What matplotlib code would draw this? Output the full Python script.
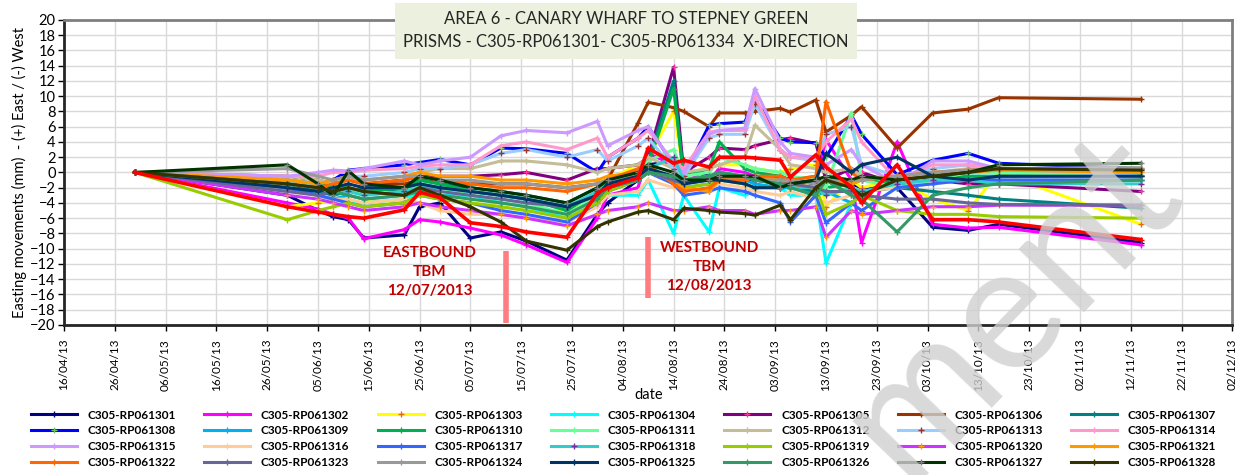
import datetime as dt
import matplotlib
matplotlib.use("Agg")
import matplotlib.pyplot as plt
import matplotlib.dates as mdates

plt.rcParams['font.family'] = ['Lato', 'DejaVu Sans']

# survey dates (dd/mm/yy)
dates = ["30/04/13", "30/05/13", "05/06/13", "08/06/13", "11/06/13", "14/06/13",
         "22/06/13", "25/06/13", "29/06/13", "05/07/13", "11/07/13", "16/07/13",
         "24/07/13", "30/07/13", "01/08/13", "07/08/13", "09/08/13", "14/08/13",
         "16/08/13", "21/08/13", "23/08/13", "28/08/13", "30/08/13", "04/09/13",
         "06/09/13", "11/09/13", "13/09/13", "18/09/13", "20/09/13", "27/09/13",
         "04/10/13", "11/10/13", "17/10/13", "14/11/13"]

names = ["C305-RP0613%02d" % i for i in range(1, 29)]
colors = ["#000080", "#FF00FF", "#FFFF00", "#00FFFF", "#800080", "#993300", "#008080",
          "#0000FF", "#00B0F0", "#00B050", "#66FF99", "#C4BD97", "#99CCFF", "#FF99CC",
          "#CC99FF", "#FFCC99", "#3366FF", "#33CCCC", "#99CC00", "#CC33FF", "#FF9900",
          "#FF6600", "#666699", "#999999", "#003366", "#339966", "#003300", "#333300"]
marker_colors = {"C305-RP061303": "#E46C0A", "C305-RP061305": "#FF3399",
                 "C305-RP061308": "#66CC66", "C305-RP061313": "#993333",
                 "C305-RP061318": "#7030A0", "C305-RP061320": "#FF9900",
                 "C305-RP061327": "#808080"}

rp01 = [0, -3, -5, -5.8, -6.2, -8.6, -8.2, -4.5, -4, -8.6, -7.8, -9, -11.5, -5.5, -4, -1, 1,
        1.5, 0.5, -0.5, -1, -1, -1, -0.5, -1, -1.5, -1, -1.5, -2, -2, -7.2, -7.6, -6.8, -9.2]
rp02 = [0, -4, -4.8, -5.5, -6, -8.7, -7.5, -6.2, -6.5, -7.3, -8.2, -9.5, -11.8, -6, -3, -2, 2.5,
        1, 0, -1, 0.5, 0, -0.5, -1, -1, -1, 4.3, -1, -9.2, 4, -6.8, -7.3, -7.2, -9.5]
rp03 = [0, -4.5, -4, -3.5, -3, -3.5, -4, -2, -3.5, -4, -4.5, -5, -5, -3, -1, 1, 2,
        8, 0, 0.5, 1, 1, 0.5, 0, 0.5, 1, -4.5, -1, -2, -1, -3.5, -5, 0, -6.8]
rp04 = [0, -2, -3, -3.5, -4, -4, -3.5, -2.5, -3, -3, -4, -4.5, -6, -4, -3, -3, -1,
        -8, -3, -7.8, -2, -3, -2, -2, -3, -3, -11.9, -4, -3, -1, -0.5, -0.5, -0.5, -0.5]
rp05 = [0, -2.5, -2, -1, 0, -1.5, -1, -0.5, -0.5, -0.5, -0.3, 0, -1, 0.5, 0.5, 1, 2,
        13.8, 0, 2, 3.2, 3, 3.5, 4.3, 4.5, 3.8, -1, 0.5, 0, -1.5, -1, -1.5, -1.5, -2.5]
rp06 = [0, -0.5, -1, -1.5, -1, -1.5, -1.5, -1, -1, -1.5, -1.5, -1.5, -2, -1.5, -1, 6.5, 9.2,
        8.5, 8, 6, 7.8, 7.8, 8, 8.4, 7.9, 9.5, 5.3, 7.5, 8.6, 3.2, 7.8, 8.3, 9.8, 9.6]
rp07 = [0, -1.5, -2.5, -3, -2.5, -2, -2.5, -1, -1.5, -2, -2.5, -3, -4, -2, -1, 0, 1.5,
        12, -1, -0.5, 0, -0.5, -1, -1.5, -2, -2.5, -1, -3, -2.5, -2, -2.5, -3, -3.5, -4.7]
rp08 = [0, -1, -1.5, -1, 0.3, 0.5, 1, 1.3, 1.7, 1, 3.2, 3.1, 2.5, 0, 2, 4.5, 6,
        1, -0.5, 6.2, 6.4, 6.6, 9.5, 4.5, 4, 3.9, 2, 7.5, 5, -0.3, 1.6, 2.5, 1.2, 0.5]
rp09 = [0, -2, -3, -3.5, -3, -3.5, -3, -1.5, -2, -2.5, -3, -3.5, -4.5, -3, -1.5, -1, 0.5,
        -1, -2, -1.5, -1, -1, -1.5, -2, -2, -3, -2.5, -4, -3, -1, -0.5, -1, -1, -1]
rp10 = [0, -1, -1.5, -2, -2, -2.5, -2, -1, -1.5, -2.5, -3, -3.5, -5, -2.5, -1, 0, 1,
        11, -0.5, 0.5, 4, 0.5, 0, -0.5, -1, -0.5, -2, -1.5, -1, -1.5, -1, -0.5, -0.5, -0.3]
rp11 = [0, -1.5, -2, -2.5, -2, -3, -2.5, -1.5, -2, -3, -3.5, -4, -5.5, -3, -1.5, -0.5, 1.5,
        3, -0.5, 0, 2, 1, 0.5, 0, -0.5, -1, -2, 7.8, -1, -2, -1, 0, 0, -0.5]
rp12 = [0, -0.5, -1, -1.5, -1, -1, -0.5, 0, 0.5, 0.5, 1.5, 1.5, 1, 0, 0.5, 1, 2,
        0.5, 0, 0.5, 1, 2, 6.2, 3, 1, 0.5, 0, 0.5, -0.5, -1, 0, 0.5, 0.5, 0.6]
rp13 = [0, -1, -1.5, -1, -0.5, -0.5, 0, 0.5, 0.5, 1, 2.5, 3, 2, 3, 1.5, 3.5, 4.5,
        0.5, -0.5, 4.5, 5, 5, 9, 3, 2, 1.5, 5, 6, 1, -0.5, 0.5, 1, 0.5, -0.5]
rp14 = [0, -0.5, -0.5, 0, 0, 0.3, 0.5, 0.8, 1, 1, 3.5, 4, 3, 4.5, 2, 4.5, 5.5,
        1.5, 0.5, 5.3, 5.5, 5.5, 10, 3, 2, 2, 4, 7, 4, -1, 1, 1, 0.5, 0]
rp15 = [0, -0.5, 0, 0.3, 0.2, 0.5, 1.5, 1, 1.5, 2, 4.8, 5.5, 5.2, 6.7, 3.5, 5.5, 6,
        1, 0, 5, 5.5, 5.8, 11, 4, 2.5, 2, 1, 3, 1, -1.5, 1.5, 1.5, 0.5, 0.5]
rp16 = [0, -2.5, -3, -3.5, -3.5, -4, -3.5, -4, -5, -5.5, -5.5, -6, -6.5, -4.5, -3, -2.5, -1,
        -2, -2.5, -2, -1.5, -2, -2.5, -3, -2.5, -3.5, -4, -3, -2.5, -2, -1.5, -1, -1, -1]
rp17 = [0, -2, -3, -3.5, -4, -4.5, -4, -3, -3.5, -4, -5, -5.5, -6.5, -4, -2.5, -1, 0,
        -1.5, -3, -2.5, -2, -2.5, -3, -4, -6.5, -3, -6.6, -4, -5, -2, -1.5, -1, -1, -1]
rp18 = [0, -1.5, -2, -2.5, -2.5, -3, -2.5, -2, -2, -2.5, -3, -3.5, -4.5, -2.5, -1.5, -0.5, 0.5,
        2, -1, -0.5, 0, -0.5, -1, -1.5, -2, -2, -3, -2, -2.5, -1.5, -1, -1, -1.5, -1.5]
rp19 = [0, -6.2, -5, -4.5, -4, -4.5, -4, -3, -3.5, -4, -4.5, -5, -6, -4, -2.5, -1, 0,
        -1, -2, -1.5, -1, -1.5, -2, -2, -1.5, -2, -5.5, -4, -3, -5, -5.5, -5.5, -5.8, -6]
rp20 = [0, -3, -3.5, -4, -4.5, -5, -4.5, -4, -4.5, -5, -5.5, -6, -7, -5.5, -5, -4.5, -4,
        -5, -5, -4.5, -5, -5, -5.5, -5, -5, -4.5, -8.5, -5, -5.5, -5, -4.5, -4.5, -4.3, -4.3]
rp21 = [0, -1, -1.5, -1, -0.5, -1, -0.5, 0, -0.5, -0.5, -1, -1, -1.5, -1, -0.5, 0, 0.5,
        -1.3, -2, -2.5, -1, -1, -0.5, -1, -1.5, -2, -1, -1.5, -1, -0.5, 0, 0, 0.3, 0]
rp22 = [0, -1.5, -2, -1.5, -1, -1.5, -1, -0.5, -1, -1.5, -2, -2, -2.5, -1.5, -1, 0.5, 1,
        -1.5, -2.5, -2, -1, -1, -0.5, -0.5, -1, -0.5, 9.3, 0, -1, -0.5, 0, 0.3, 0.5, 0.5]
rp23 = [0, -2.5, -3, -2.5, -2, -2.5, -3, -2, -2.5, -3, -3.5, -4, -4.5, -3, -2, -1, 0,
        -1, -1.5, -1, -0.5, -0.5, -1, -1.5, -1.5, -2, -2.5, -2.5, -3, -3.5, -3.5, -4, -4.2, -4.3]
rp24 = [0, 0.5, -0.5, -1, -0.5, -1, -0.5, -0.5, -1, -1, -1.5, -1.5, -2, -1.5, -1, -0.5, 0,
        -0.5, -1, -0.5, -0.5, -0.5, -1, -1, -1, -1.5, -1, -1, -1, -0.5, 0, 0.3, 0.5, 0.6]
rp25 = [0, -2, -2.5, -2, -1.5, -2, -2, -1.5, -2, -2.5, -3, -3.5, -4.5, -3, -1.5, -0.5, 0.5,
        -0.5, -1.5, -1, -1, -1.5, -2, -2, -1.5, -1, 2.5, 0, 1, 2, -0.5, -1, -0.5, -0.5]
rp26 = [0, -1.5, -2, -2.5, -3, -3.5, -3, -2.5, -3, -3.5, -4, -4.5, -5.5, -3.5, -2, -1, 0,
        -0.5, -1, -0.5, 0, -0.5, -1, -1.5, -2, -3, -1, -3, -3.5, -7.8, -3, -2, -1.5, -1]
rp27 = [0, 1, -1.5, -3, 0.2, -1.5, -2, -0.5, -1, -2, -2.5, -3, -4, -2, -1, 0, 1,
        0, -1, -1, -0.5, -0.5, -0.5, -2, -1.5, -1, -0.5, -1, -0.5, -1, -0.5, 0, 1, 1.2]
rp28 = [0, -1.5, -2, -2.5, -2, -2.5, -3, -2, -3, -4.5, -6.5, -9, -10.2, -7.1, -6.5, -5.2, -5,
        -6.2, -4.7, -5, -5.2, -5.4, -5.6, -4.3, -6.2, -2, -1, -2, -3, -1, -0.5, 0, 0.5, 0.3]
# thick red prism line (not shown in legend)
rp29 = [0, -4.5, -5.2, -5.5, -5.8, -6, -4.9, -2.6, -3.3, -6.6, -7.1, -7.8, -8.5, -2.7, -2, -0.7, 3.2,
        1.2, 1.6, 0.7, 2, 2, 1.9, 1.6, -0.6, 2.3, 0.7, -1.9, -4, 1, -6.2, -6.2, -6.5, -8.8]

series = [rp01, rp02, rp03, rp04, rp05, rp06, rp07, rp08, rp09, rp10, rp11, rp12, rp13, rp14,
          rp15, rp16, rp17, rp18, rp19, rp20, rp21, rp22, rp23, rp24, rp25, rp26, rp27, rp28]

x = [dt.datetime.strptime(d, "%d/%m/%y") for d in dates]

fig = plt.figure(figsize=(12.47, 4.75), dpi=100)
ax = fig.add_axes([0.0513, 0.316, 0.9370, 0.642])

handles = []
for name, col, vals in zip(names, colors, series):
    mc = marker_colors.get(name, col)
    h, = ax.plot(x, vals, color=col, lw=2.2, marker='+', ms=5, mec=mc, mew=1, label=name)
    handles.append(h)
ax.plot(x, rp29, color="#FF0000", lw=2.6, marker='+', ms=5, mec="#FF0000")

# TBM passing markers
ax.plot([dt.datetime(2013, 7, 12)] * 2, [-10.3, -19.7], color="#FF7C80", lw=4, solid_capstyle='butt')
ax.plot([dt.datetime(2013, 8, 9)] * 2, [-8.5, -16.5], color="#FF7C80", lw=4, solid_capstyle='butt')
ax.text(dt.datetime(2013, 6, 27), -9.6, "EASTBOUND\nTBM\n12/07/2013", color="#C00000",
        fontsize=11, fontweight='bold', ha='center', va='top', linespacing=1.45)
ax.text(dt.datetime(2013, 8, 21), -9.0, "WESTBOUND\nTBM\n12/08/2013", color="#C00000",
        fontsize=11, fontweight='bold', ha='center', va='top', linespacing=1.45)

start = dt.datetime(2013, 4, 16)
end = dt.datetime(2013, 12, 2)
ax.set_xlim(start, end)
ax.set_ylim(-20, 20)
ax.set_yticks(range(-20, 21, 2))
ax.set_xticks([start + dt.timedelta(days=10 * i) for i in range(24)])
ax.xaxis.set_major_formatter(mdates.DateFormatter("%d/%m/%y"))
plt.setp(ax.get_xticklabels(), rotation=90, fontsize=8.5)
plt.setp(ax.get_yticklabels(), fontsize=10.5)
ax.tick_params(axis='x', length=4, width=1, pad=6)
ax.tick_params(axis='y', length=4, width=1, pad=2)
ax.grid(True, color="#D9D9D9", lw=1)
ax.set_axisbelow(True)
for s in ['left', 'bottom']:
    ax.spines[s].set_linewidth(2)
    ax.spines[s].set_color('#262626')
for s in ['top', 'right']:
    ax.spines[s].set_linewidth(2)
    ax.spines[s].set_color('#7F7F7F')

ax.set_ylabel("Easting movements (mm)  - (+) East / (-) West", fontsize=10.5, labelpad=2)
ax.set_xlabel("date", fontsize=10.5, labelpad=-2)

fig.text(0.502, 0.935, "AREA 6 - CANARY WHARF TO STEPNEY GREEN\nPRISMS - C305-RP061301- C305-RP061334  X-DIRECTION",
         ha='center', va='center', fontsize=12, linespacing=1.55, color="#262626",
         bbox=dict(boxstyle='square,pad=0.5', fc="#EBF1DE", ec='none'))

# legend filled row by row, 7 columns
order = [r * 7 + c for c in range(7) for r in range(4)]
fig.legend([handles[i] for i in order], [names[i] for i in order], ncol=7, frameon=False,
           loc='upper left', bbox_to_anchor=(0.016, 0.16), handlelength=3.9,
           handletextpad=0.9, columnspacing=2.4, labelspacing=0.4,
           prop={'weight': 'bold', 'size': 8.5})

fig.text(0.81, 0.36, "ment", fontsize=128, color="#D0D0D0", alpha=0.8, rotation=46,
         ha='center', va='center', zorder=10)

fig.savefig("out.png", dpi=100)
